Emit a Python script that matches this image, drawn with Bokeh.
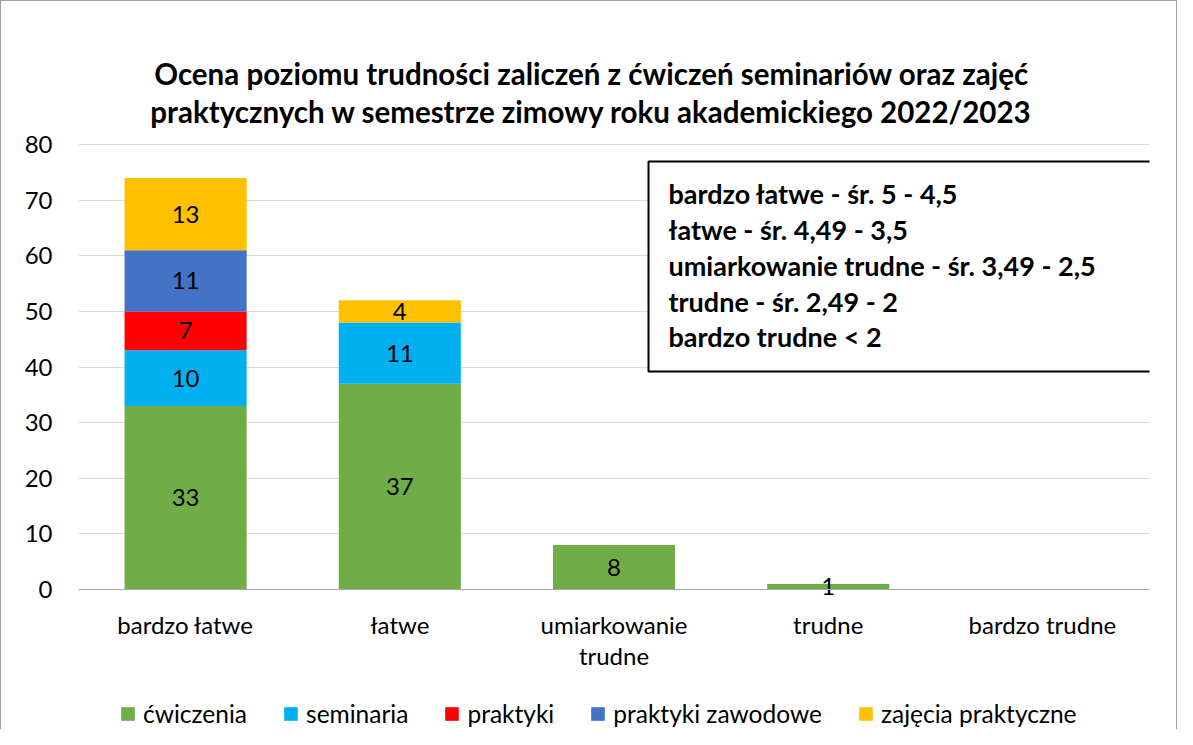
from bokeh.plotting import figure
from bokeh.models import (Range1d, FixedTicker, Label, Legend, LegendItem,
                          BoxAnnotation, ColumnDataSource)
from bokeh.embed import file_html
from bokeh.resources import INLINE
from bokeh.core.properties import value

# ---------------- data ----------------
categories = ["bardzo łatwe", "łatwe", "umiarkowanie\ntrudne", "trudne", "bardzo trudne"]
series_names = ["ćwiczenia", "seminaria", "praktyki", "praktyki zawodowe", "zajęcia praktyczne"]
cwiczenia = [33, 37, 8, 1, 0]
seminaria = [10, 11, 0, 0, 0]
praktyki = [7, 0, 0, 0, 0]
praktyki_zawodowe = [11, 0, 0, 0, 0]
zajecia_praktyczne = [13, 4, 0, 0, 0]
series_values = [cwiczenia, seminaria, praktyki, praktyki_zawodowe, zajecia_praktyczne]
colors = ["#70AD47", "#00B0F0", "#FF0000", "#4472C4", "#FFC000"]
y_ticks = [0, 10, 20, 30, 40, 50, 60, 70, 80]
title_lines = [
    "Ocena poziomu trudności zaliczeń z ćwiczeń seminariów oraz zajęć",
    "praktycznych w semestrze zimowy roku akademickiego 2022/2023",
]
note_lines = [
    "bardzo łatwe - śr. 5 - 4,5",
    "łatwe - śr. 4,49 - 3,5",
    "umiarkowanie trudne  - śr.  3,49 - 2,5",
    "trudne  - śr. 2,49 - 2",
    "bardzo trudne < 2",
]

FONT = "Lato"

# ---------------- layout (pixels) ----------------
W, H = 1177, 729
FRAME_L, FRAME_R = 77, 1148          # plot area left / right
Y80_PX, Y0_PX = 143, 588             # pixel rows of the 80 and 0 gridlines
px_per_unit = (Y0_PX - Y80_PX) / 80.0
y_top = 80 + Y80_PX / px_per_unit
y_bottom = -(H - Y0_PX) / px_per_unit


def sx(px):
    return px - FRAME_L


def sy(py):
    return H - py


x_pos = list(range(len(categories)))
data = {"x": x_pos}
for name, vals in zip(series_names, series_values):
    data[name] = vals
src = ColumnDataSource(data)

p = figure(width=W, height=H, x_range=Range1d(-0.5, 4.5), y_range=Range1d(y_bottom, y_top),
           output_backend="svg", toolbar_location=None,
           min_border_left=FRAME_L, min_border_right=W - FRAME_R,
           min_border_top=0, min_border_bottom=0)
p.outline_line_color = None
p.background_fill_color = "white"
p.border_fill_color = "white"
p.styles = {"border-top": "1px solid #a0a0a0",
            "border-left": "1px solid #a0a0a0",
            "border-right": "1px solid #a0a0a0"}

renderers = p.vbar_stack(series_names, x="x", width=0.57, source=src,
                         fill_color=colors, line_color=None)

# value labels
lx, ly, lt = [], [], []
bottoms = [0] * len(categories)
for vals in series_values:
    for i, v in enumerate(vals):
        if v > 0:
            lx.append(i)
            ly.append(bottoms[i] + v / 2)
            lt.append(str(v))
        bottoms[i] += v
lab_src = ColumnDataSource(dict(x=lx, y=ly, text=lt))
p.text(x="x", y="y", text="text", source=lab_src, text_align="center",
       text_baseline="middle", text_font=value(FONT), text_font_size="24px",
       text_color="#000000")

# axes
p.xaxis.fixed_location = 0
p.xaxis.ticker = FixedTicker(ticks=x_pos)
p.xaxis.major_label_overrides = {i: c for i, c in enumerate(categories)}
p.xaxis.axis_line_color = "#a6a6a6"
p.xaxis.axis_line_width = 1
p.xaxis.major_tick_line_color = None
p.xaxis.minor_tick_line_color = None
p.xaxis.major_label_standoff = 14
p.xaxis.major_label_text_font = FONT
p.xaxis.major_label_text_font_size = "24px"
p.xaxis.major_label_text_color = "#000000"
p.xaxis.major_label_text_line_height = 1.1

p.yaxis.ticker = FixedTicker(ticks=y_ticks)
p.yaxis.axis_line_color = None
p.yaxis.major_tick_line_color = None
p.yaxis.minor_tick_line_color = None
p.yaxis.major_label_standoff = 20
p.yaxis.major_label_text_font = FONT
p.yaxis.major_label_text_font_size = "24px"
p.yaxis.major_label_text_color = "#000000"

p.xgrid.grid_line_color = None
p.ygrid.ticker = FixedTicker(ticks=y_ticks)
p.ygrid.grid_line_color = "#d9d9d9"
p.ygrid.grid_line_width = 1

# title
for t, cy in zip(title_lines, [72, 110]):
    p.add_layout(Label(x=sx(590), y=sy(cy), x_units="screen", y_units="screen", text=t,
                       text_align="center", text_baseline="middle",
                       text_font=FONT, text_font_style="bold", text_font_size="29.5px",
                       text_color="#000000"))

# notes box
p.add_layout(BoxAnnotation(left=sx(647), right=sx(1300), top=sy(160), bottom=sy(370),
                           left_units="screen", right_units="screen",
                           top_units="screen", bottom_units="screen",
                           fill_color="white", fill_alpha=1.0,
                           line_color="#000000", line_alpha=1.0, line_width=2))
for t, cy in zip(note_lines, [192, 228, 264, 300, 335]):
    p.add_layout(Label(x=sx(667), y=sy(cy), x_units="screen", y_units="screen", text=t,
                       text_align="left", text_baseline="middle",
                       text_font=FONT, text_font_style="bold", text_font_size="27px",
                       text_color="#000000"))

# legend
items = [LegendItem(label=n, renderers=[r]) for n, r in zip(series_names, renderers)]
legend = Legend(items=items, orientation="horizontal", location=(sx(118), 2),
                glyph_width=17, glyph_height=17, label_standoff=7, spacing=35,
                padding=0, margin=0, border_line_color=None, background_fill_alpha=0,
                label_text_font=FONT, label_text_font_size="24.5px", label_text_color="#000000")
p.add_layout(legend)

open("out.html", "w").write(file_html(p, INLINE))
